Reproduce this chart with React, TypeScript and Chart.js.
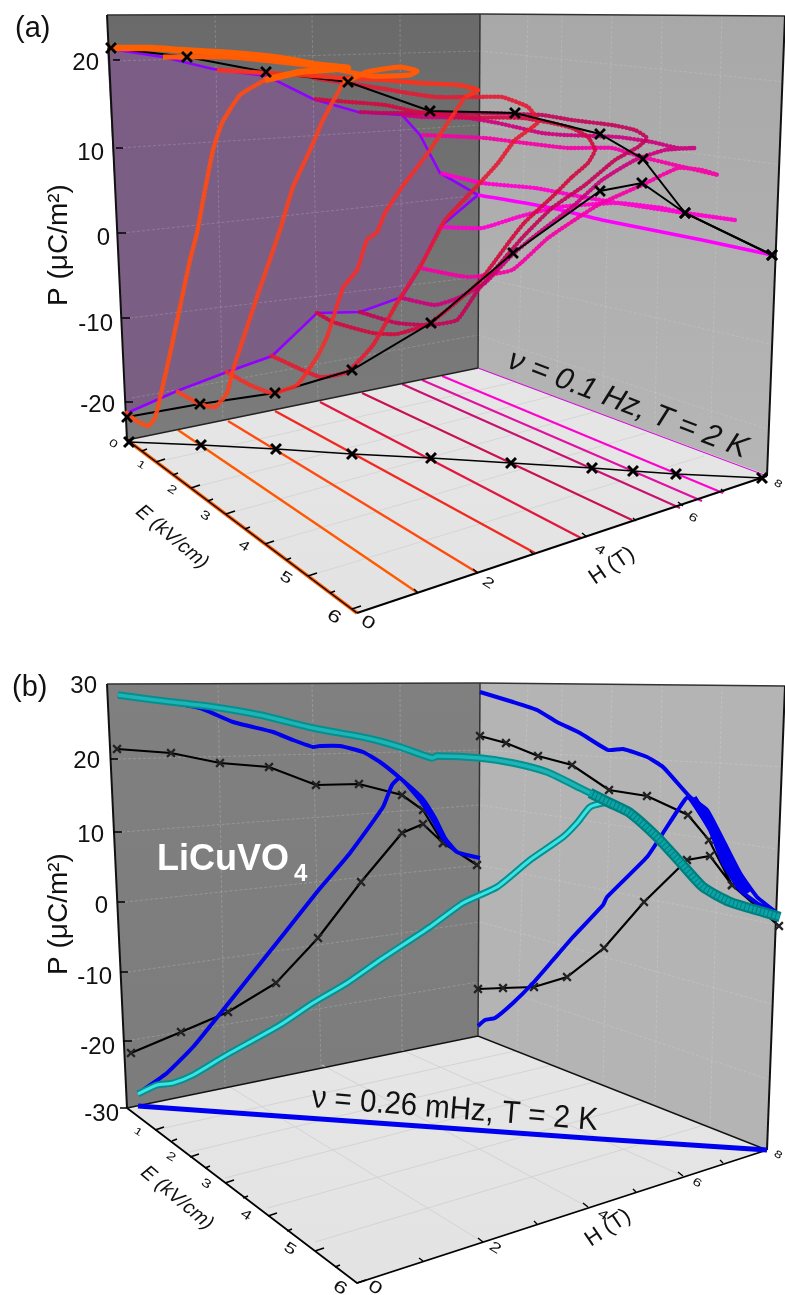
import React, { useEffect, useRef } from "react";
import { Chart, registerables } from "chart.js";

Chart.register(...registerables);

type P = [number, number];

// ---------- panel (a) : projected picture readings ----------
const wallLeftA: P[] = [[107,15],[480,14],[478,368],[127,440]];
const wallRightA: P[] = [[480,14],[785,16],[767,475],[478,368]];
const floorA: P[] = [[127,440],[478,368],[767,476],[357,613]];
const purpleA: P[] = [[110,49],[163,57],[213,69],[267,76],[313,99],[358,112],[402,115],[420,135],[440,173],[478,195],[440,227],[420,268],[402,297],[360,312],[317,313],[272,356],[227,372],[177,391],[127,413]];
const purpleAreaA: P[] = [[107,48],...purpleA,[127,413]];
const gridA: number[][] = [
  [113,61,480,51],[118,148,480,125],[122,233,480,195],[130,318,478,277],[132,398,478,335],
  [480,51,785,82],[480,125,783,165],[480,195,778,255],[478,277,775,345],[478,335,770,430],
  [215,15,223,424],[312,15,318,402],[400,14,402,384],
  [528,15,518,383],[562,15,557,397],[612,16,603,415],[662,16,655,434],[722,16,710,455],
];
const floorGridA: number[][] = [
  [156,462,515,382],[191,488,552,396],[226,514,594,412],[265,544,646,433],[308,576,704,456],
];
const floorLinesA: number[][] = [
  [178,430,418,593],[228,421,478,573],[275,411,535,553],[320,402,581,538],
  [362,393,632,520],[402,384,680,508],[422,380,702,501],[442,376,723,493],[478,368,767,476],
];
const floorLineColorsA = ["#ff5a00","#ff4a10","#f02a20","#e01840","#c81050","#c81070","#e010a0","#ff00d0","#d010d0"];
const floorCrossesA: P[] = [[129,442],[201,445],[276,449],[352,454],[431,458],[511,463],[592,468],[633,471],[676,474],[762,478]];
const blackUpperA: P[] = [[111,48],[187,57],[266,72],[348,82],[430,111],[515,113],[600,134],[643,159],[685,213],[772,255]];
const blackLowerA: P[] = [[772,255],[685,213],[642,183],[600,191],[513,253],[431,323],[352,370],[275,393],[200,404],[127,417]];
const loop1A: P[] = [[127,413],[135,420],[148,426],[155,418],[168,363],[180,307],[190,260],[197,233],[205,190],[213,150],[222,123],[240,95],[265,80]];
const loop1TopA: P[] = [[265,80],[300,72],[348,68],[320,65],[280,58],[230,53],[180,50],[150,48],[110,48]];
const loop2A: P[] = [[178,392],[200,404],[215,407],[227,393],[233,370],[257,297],[280,230],[293,187],[310,150],[323,120],[343,83]];
const loop2TopA: P[] = [[343,83],[367,72],[400,67],[417,71],[410,75],[370,76],[330,68],[280,62],[230,57],[163,57]];
const loop3A: P[] = [[227,372],[250,385],[272,393],[297,385],[317,357],[327,337],[343,288],[357,270],[367,240],[377,232],[385,213],[402,187],[428,153],[445,127],[465,97]];
const loop3TopA: P[] = [[465,97],[478,90],[458,85],[418,83],[385,80],[345,78],[300,75],[267,73],[217,70]];
const loop4A: P[] = [[272,356],[320,377],[347,372],[373,345],[397,303],[420,267],[438,233],[445,220],[478,185],[498,163],[515,140],[538,122],[528,107],[502,97],[478,97],[435,97],[402,92],[385,89],[360,85],[313,78]];
const loop5A: P[] = [[317,313],[333,322],[373,333],[397,334],[430,323],[478,283],[512,238],[525,222],[552,197],[572,177],[588,163],[595,150],[588,137],[572,128],[552,123],[522,118],[465,117],[418,112],[385,105],[350,102],[313,99]];
const loop6A: P[] = [[360,312],[397,323],[430,325],[457,320],[478,290],[522,238],[552,208],[585,185],[615,160],[638,147],[647,138],[635,130],[612,125],[572,120],[542,115],[478,113],[420,113],[385,113],[358,112]];
const loop7A: P[] = [[402,298],[435,305],[458,298],[485,283],[512,255],[532,238],[572,207],[602,180],[635,160],[665,150],[695,148],[678,148],[652,142],[618,137],[565,135],[542,133],[498,123],[468,118],[422,117],[402,115]];
const loop8A: P[] = [[420,268],[468,277],[512,270],[548,238],[598,205],[642,185],[678,168],[702,170],[718,175],[675,165],[642,157],[612,148],[568,148],[525,143],[485,138],[422,135]];
const loop9A: P[] = [[440,227],[482,228],[518,217],[558,207],[618,203],[662,208],[685,213],[735,220],[678,212],[618,203],[572,195],[535,188],[482,183],[440,173]];
const loop10A: P[] = [[478,195],[552,208],[602,220],[702,240],[772,255]];
const loopColorsA = ["rgba(255,75,20,.92)","rgba(250,65,30,.9)","rgba(245,45,40,.9)","rgba(230,25,50,.9)","rgba(210,10,65,.92)","rgba(195,5,90,.92)","rgba(205,0,125,.92)","rgba(245,0,165,.92)","rgba(255,0,205,.95)","#ff00ff"];
const eAxisMajorA: number[][] = [[156,462,165,459],[191,488,200,485],[226,514,235,511],[265,544,274,541],[308,576,317,573],[352,609,361,606]];
const eAxisMinorA: number[][] = [[142,451,147,449],[173,475,178,473],[208,501,213,499],[245,529,250,527],[286,560,291,558],[330,593,335,591]];
const hAxisTicksA: number[][] = [[418,593,414,589],[478,573,473,569],[533,554,530,551],[587,537,582,533],[636,521,633,518],[683,506,678,502],[724,492,721,489]];
const yTickMarksA: number[][] = [[113,60,120,60],[116,148,123,148],[118,233,126,233],[122,318,130,318],[125,402,133,402]];

// ---------- panel (b) ----------
const wallLeftB: P[] = [[107,684],[480,683],[478,1036],[127,1108]];
const wallRightB: P[] = [[480,683],[785,686],[767,1150],[478,1036]];
const floorB: P[] = [[127,1108],[478,1036],[767,1150],[357,1283]];
const gridB: number[][] = [
  [118,759,480,750],[122,832,480,805],[125,902,480,865],[128,972,480,922],[132,1040,478,982],
  [480,750,785,767],[480,805,783,850],[480,865,778,925],[480,922,775,1005],[478,982,770,1080],
  [218,685,225,1088],[312,684,321,1068],[400,684,402,1050],
  [528,684,517,1052],[562,684,557,1067],[612,685,603,1086],[662,685,655,1106],[722,686,710,1128],
];
const floorGridB: number[][] = [
  [155,1130,515,1051],[190,1152,552,1065],[225,1178,594,1082],[268,1208,646,1102],[315,1242,704,1125],
  [230,1087,483,1242],[322,1065,588,1207],[402,1050,683,1176],
];
const blueLeftB: P[] = [[143,1090],[167,1073],[193,1047],[223,1010],[263,960],[283,935],[317,892],[350,853],[383,807],[392,785],[400,778],[420,800],[433,820],[443,838],[457,852],[480,858],[457,852],[445,838],[435,818],[422,798],[400,778],[380,762],[363,752],[340,746],[320,746],[313,747],[293,740],[273,732],[233,722],[200,708],[155,700],[118,695]];
const blueRightLowB: P[] = [[478,1026],[485,1020],[495,1018],[513,1003],[533,983],[553,960],[573,937],[603,905],[607,897],[647,857],[663,833],[678,810],[688,797],[710,830],[723,863],[740,890],[760,905],[777,913]];
const blueRightTopB: P[] = [[777,913],[757,897],[740,873],[723,840],[707,810],[690,797],[663,767],[647,757],[623,749],[608,750],[580,733],[557,722],[537,710],[513,702],[480,692]];
const blueWedgeB: P[] = [[693,798],[716,835],[731,868],[748,893]];
const cyanTopB: P[] = [[118,695],[155,700],[207,706],[260,715],[313,728],[367,738],[400,747],[432,758],[437,756],[480,758],[513,763],[547,772],[580,788],[610,803]];
const cyanThickB: P[] = [[590,793],[610,803],[630,813],[657,837],[680,862],[703,887],[730,902],[763,912],[780,917]];
const cyanLowB: P[] = [[610,803],[603,803],[590,807],[577,823],[563,837],[530,860],[497,887],[463,903],[430,927],[380,960],[347,983],[313,1003],[280,1025],[223,1057],[193,1075],[173,1083],[157,1085],[138,1094]];
const blackLeftB: P[] = [[117,749],[171,753],[220,763],[269,767],[316,785],[359,784],[402,795],[423,810],[443,843],[477,865],[443,843],[423,824],[402,833],[361,882],[318,938],[276,983],[228,1012],[181,1032],[131,1053]];
const blackRightB: P[] = [[480,736],[506,743],[538,756],[572,765],[609,790],[647,796],[688,815],[709,840],[732,885],[779,926],[732,885],[710,856],[687,860],[644,902],[604,948],[567,977],[534,987],[503,988],[478,989]];
const blueFloorB: P[] = [[138,1106],[433,1127],[600,1139],[767,1150]];
const eAxisMajorB: number[][] = [[155,1130,164,1127],[190,1157,199,1154],[225,1183,234,1180],[268,1216,277,1213],[315,1251,324,1248],[357,1283,366,1280]];
const eAxisMinorB: number[][] = [[172,1141,177,1139],[205,1168,210,1166],[243,1198,248,1196],[287,1231,292,1229],[335,1267,340,1265]];
const hAxisTicksB: number[][] = [[423,1261,419,1258],[483,1242,478,1238],[537,1224,534,1221],[588,1207,583,1203],[636,1192,633,1189],[683,1176,678,1172],[723,1163,720,1160]];
const yTickMarksB: number[][] = [[110,759,118,759],[113,832,122,832],[118,902,125,902],[120,972,128,972],[123,1041,132,1041],[127,1108,120,1108]];

// ---------- labels ----------
const yTickLabelsA = ["20","10","0","-10","-20"];
const yTickLabelsB = ["30","20","10","0","-10","-20","-30"];
const eTickLabelsA = ["0","1","2","3","4","5","6"];
const eTickLabelsB = ["1","2","3","4","5","6"];
const hTickLabels = ["0","2","4","6","8"];
const yTickAnchorA: P[] = [[99,70],[104,160],[110,245],[113,331],[115,412]];
const yTickAnchorB: P[] = [[97,693],[100,768],[104,842],[108,913],[112,984],[115,1054],[119,1121]];
const eTickAnchorA: P[] = [[113,444],[141,465],[172,490],[205,516],[244,546],[286,578],[334,617]];
const eTickAnchorB: P[] = [[138,1132],[171,1157],[206,1184],[246,1215],[290,1249],[340,1288]];
const hTickAnchorA: P[] = [[368,623],[488,583],[600,550],[693,518],[778,484]];
const hTickAnchorB: P[] = [[375,1288],[495,1248],[603,1215],[697,1183],[778,1155]];
const eTickSizes = [15,14,16,17,19,21,24];
const hTickSizes = [24,20,18,16,14];

const SANS = '"Liberation Sans", Arial, sans-serif';
type Txt = { t: string; x: number; y: number; rot?: number; font: string; color?: string; align?: CanvasTextAlign; sy?: number; base?: CanvasTextBaseline };
const texts: Txt[] = [
  { t: "(a)", x: 15, y: 37, font: `29px ${SANS}` },
  { t: "(b)", x: 12, y: 696, font: `29px ${SANS}` },
  { t: "P (μC/m²)", x: 67, y: 245, rot: -90, font: `28px ${SANS}`, align: "center" },
  { t: "P (μC/m²)", x: 67, y: 914, rot: -90, font: `28px ${SANS}`, align: "center" },
  { t: "ν = 0.1 Hz, T = 2 K", x: 506, y: 367, rot: 21, font: `italic 30.5px ${SANS}` },
  { t: "ν = 0.26 mHz, T = 2 K", x: 311, y: 1107, rot: 4.6, font: `29.5px ${SANS}`, sy: 1.08 },
  { t: "LiCuVO", x: 157, y: 870, font: `bold 36px ${SANS}`, color: "#ffffff" },
  { t: "4", x: 294, y: 881, font: `bold 24px ${SANS}`, color: "#ffffff" },
  { t: "E (kV/cm)", x: 172, y: 537, rot: 40, font: `italic 20px ${SANS}`, align: "center", base: "middle" },
  { t: "E (kV/cm)", x: 177, y: 1198, rot: 40, font: `italic 20px ${SANS}`, align: "center", base: "middle" },
  { t: "H (T)", x: 612, y: 566, rot: -34, font: `22px ${SANS}`, align: "center", base: "middle" },
  { t: "H (T)", x: 608, y: 1228, rot: -34, font: `22px ${SANS}`, align: "center", base: "middle" },
];
yTickLabelsA.forEach((t, i) => texts.push({ t, x: yTickAnchorA[i][0], y: yTickAnchorA[i][1], font: `24px ${SANS}`, align: "right" }));
yTickLabelsB.forEach((t, i) => texts.push({ t, x: yTickAnchorB[i][0], y: yTickAnchorB[i][1], font: `24px ${SANS}`, align: "right" }));
eTickLabelsA.forEach((t, i) => texts.push({ t, x: eTickAnchorA[i][0], y: eTickAnchorA[i][1], rot: 32, font: `${eTickSizes[i]}px ${SANS}`, align: "center", base: "middle", sy: 0.72 }));
eTickLabelsB.forEach((t, i) => texts.push({ t, x: eTickAnchorB[i][0], y: eTickAnchorB[i][1], rot: 32, font: `${eTickSizes[i + 1]}px ${SANS}`, align: "center", base: "middle", sy: 0.72 }));
hTickLabels.forEach((t, i) => {
  texts.push({ t, x: hTickAnchorA[i][0], y: hTickAnchorA[i][1], rot: 32, font: `${hTickSizes[i]}px ${SANS}`, align: "center", base: "middle", sy: 0.72 });
  texts.push({ t, x: hTickAnchorB[i][0], y: hTickAnchorB[i][1], rot: 32, font: `${hTickSizes[i]}px ${SANS}`, align: "center", base: "middle", sy: 0.72 });
});

// ---------- dataset helpers ----------
const pts = (a: P[]) => a.map(([x, y]) => ({ x, y }));
const segs = (a: number[][]) => a.flatMap(([x1, y1, x2, y2]) => [{ x: x1, y: y1 }, { x: x2, y: y2 }, { x: NaN, y: NaN }]);
const line = (data: any[], color: string, width: number, extra: any = {}) => ({
  type: "scatter", data, showLine: true, borderColor: color, borderWidth: width, pointRadius: 0, tension: 0, spanGaps: false, fill: false, ...extra,
});
const poly = (a: P[], c1: string, c2: string) => ({ type: "scatter", data: pts(a), showLine: false, pointRadius: 0, polyFill: [c1, c2] });
const crosses = (a: P[], color: string, r: number, w: number) => ({
  type: "scatter", data: pts(a), showLine: false, pointStyle: "crossRot", pointRadius: r, pointBorderColor: color, borderColor: color, pointBorderWidth: w, borderWidth: w,
});
const dot = { borderDash: [0.1, 3.6], borderCapStyle: "round", tension: 0.15 };

const layers: any[] = [
  // panel a walls
  poly(wallLeftA, "#6a6a6a", "#7c7c7c"),
  poly(wallRightA, "#a8a8a8", "#b6b6b6"),
  poly(purpleAreaA, "#7b5d85", "#7b5f83"),
  line(segs(gridA), "rgba(225,225,225,.22)", 1, { borderDash: [3, 2] }),
  poly(floorA, "#e6e6e6", "#e3e3e3"),
  line(segs(floorGridA), "#d6d6d6", 1),
  ...floorLinesA.map((l, i) => line(segs([l]), floorLineColorsA[i], i === 8 ? 1.2 : i < 4 ? 2.4 : 2)),
  line(pts([[127,440],[357,613]]), "#ff5a00", 3.5),
  line(pts([[127,440],[357,613]]), "#000", 1.2),
  line(pts([[357,613],[767,476]]), "#000", 2),
  line(pts([[127,440],[478,368]]), "#222", 1.5),
  line(pts([[107,15],[480,14],[785,16]]), "#333", 1.5),
  line(pts([[107,15],[127,440]]), "#111", 2),
  line(pts([[480,14],[478,368]]), "#333", 1.5),
  line(pts([[785,16],[767,476]]), "#111", 2),
  line(segs(eAxisMajorA), "#000", 1.6),
  line(segs(eAxisMinorA), "#000", 1.4),
  line(segs(hAxisTicksA), "#000", 1.4),
  line(segs(yTickMarksA), "#000", 1.4),
  line(pts(floorCrossesA), "#000", 1.4),
  crosses(floorCrossesA, "#000", 7, 3),
  line(pts(purpleA), "#9200ff", 2.6),
  line(pts(loop10A), loopColorsA[9], 3.6, { tension: 0.15 }),
  line(pts(loop9A), loopColorsA[8], 4.4, dot),
  line(pts(loop8A), loopColorsA[7], 4.4, dot),
  line(pts(loop7A), loopColorsA[6], 4.4, dot),
  line(pts(loop6A), loopColorsA[5], 4.4, dot),
  line(pts(loop5A), loopColorsA[4], 4.4, dot),
  line(pts(loop4A), loopColorsA[3], 4.6, dot),
  line(pts(blackUpperA), "#000", 2),
  line(pts(blackLowerA), "#000", 2),
  line(pts(loop3A), loopColorsA[2], 4.6, dot),
  line(pts(loop3TopA), "rgba(250,50,30,.95)", 4.4, { tension: 0.15 }),
  line(pts(loop2A), loopColorsA[1], 4.8, dot),
  line(pts(loop2TopA), "#ff5a08", 5, { tension: 0.15 }),
  line(pts(loop1A), loopColorsA[0], 4.8, dot),
  line(pts(loop1TopA), "#ff5f00", 6.5, { tension: 0.15 }),
  crosses(blackUpperA, "#000", 7, 2.8),
  crosses(blackLowerA, "#000", 7, 2.8),

  // panel b walls
  poly(wallLeftB, "#808080", "#7c7c7c"),
  poly(wallRightB, "#b4b4b4", "#b4b4b4"),
  line(segs(gridB), "rgba(230,230,230,.22)", 1, { borderDash: [3, 2] }),
  poly(floorB, "#e6e6e6", "#e3e3e3"),
  line(segs(floorGridB), "#d4d4d4", 1),
  line(pts([[127,1108],[357,1283],[767,1150]]), "#000", 1.8),
  line(pts([[127,1108],[478,1036],[767,1150]]), "#111", 1.4),
  line(pts([[107,684],[480,683],[785,686]]), "#333", 1.5),
  line(pts([[107,684],[127,1108]]), "#111", 2),
  line(pts([[480,683],[478,1036]]), "#333", 1.5),
  line(pts([[785,686],[767,1150]]), "#111", 2),
  line(segs(eAxisMajorB), "#000", 1.6),
  line(segs(eAxisMinorB), "#000", 1.4),
  line(segs(hAxisTicksB), "#000", 1.4),
  line(segs(yTickMarksB), "#000", 1.4),
  line(pts(blueFloorB), "#0000f0", 5),
  line(pts(blackLeftB), "#000", 2.2),
  line(pts(blackRightB), "#000", 2.2),
  crosses(blackLeftB, "#222", 5.5, 2.2),
  crosses(blackRightB, "#222", 5.5, 2.2),
  line(pts(blueLeftB), "#0000ee", 4, { tension: 0.15 }),
  line(pts(blueRightLowB), "#0000ee", 4, { tension: 0.15 }),
  line(pts(blueRightTopB), "#0000ee", 4, { tension: 0.15 }),
  line(pts(blueWedgeB), "#0000ee", 8, { tension: 0.15 }),
  line(pts(cyanTopB), "#078f90", 7.5, { tension: 0.2 }),
  line(pts(cyanTopB), "#1bb5b6", 3.5, { tension: 0.2 }),
  line(pts(cyanLowB), "#078f90", 7, { tension: 0.2 }),
  line(pts(cyanLowB), "#3be4e4", 3, { tension: 0.2 }),
  line(pts(cyanThickB), "#007f80", 10.5, { tension: 0.2 }),
  line(pts(cyanThickB), "#0ba3a4", 6, { tension: 0.2, borderDash: [3, 1] }),
];

const polyFillPlugin = {
  id: "polyFill",
  beforeDatasetDraw(chart: any, args: any) {
    const ds = chart.data.datasets[args.index];
    if (!ds.polyFill) return;
    const ctx = chart.ctx;
    const el = args.meta.data;
    const ys = el.map((e: any) => e.y);
    const g = ctx.createLinearGradient(0, Math.min(...ys), 0, Math.max(...ys));
    g.addColorStop(0, ds.polyFill[0]);
    g.addColorStop(1, ds.polyFill[1]);
    ctx.save();
    ctx.fillStyle = g;
    ctx.beginPath();
    el.forEach((e: any, i: number) => (i ? ctx.lineTo(e.x, e.y) : ctx.moveTo(e.x, e.y)));
    ctx.closePath();
    ctx.fill();
    ctx.restore();
  },
};

const textPlugin = {
  id: "panelText",
  afterDatasetsDraw(chart: any) {
    const ctx = chart.ctx;
    const sx = chart.scales.x, sy = chart.scales.y;
    texts.forEach((t) => {
      ctx.save();
      ctx.translate(sx.getPixelForValue(t.x), sy.getPixelForValue(t.y));
      if (t.rot) ctx.rotate((t.rot * Math.PI) / 180);
      if (t.sy) ctx.scale(1, t.sy);
      ctx.font = t.font;
      ctx.fillStyle = t.color || "#111";
      ctx.textAlign = t.align || "left";
      ctx.textBaseline = t.base || "alphabetic";
      ctx.fillText(t.t, 0, 0);
      ctx.restore();
    });
  },
};

export default function App() {
  const ref = useRef<HTMLCanvasElement>(null);
  useEffect(() => {
    const n = layers.length;
    const chart = new Chart(ref.current!, {
      type: "scatter",
      data: { datasets: layers.map((d, i) => ({ ...d, order: n - i })) },
      options: {
        animation: false,
        responsive: false,
        events: [],
        layout: { padding: 0, autoPadding: false },
        plugins: { legend: { display: false }, tooltip: { enabled: false }, title: { display: false } },
        scales: {
          x: { type: "linear", min: 0, max: 785, display: false },
          y: { type: "linear", min: 0, max: 1295, reverse: true, display: false },
        },
      },
      plugins: [polyFillPlugin, textPlugin],
    } as any);
    return () => chart.destroy();
  }, []);
  return (
    <div style={{ position: "absolute", left: 0, top: 0, width: 785, height: 1295, background: "#fff" }}>
      <canvas ref={ref} width={785} height={1295} style={{ display: "block" }} />
    </div>
  );
}
